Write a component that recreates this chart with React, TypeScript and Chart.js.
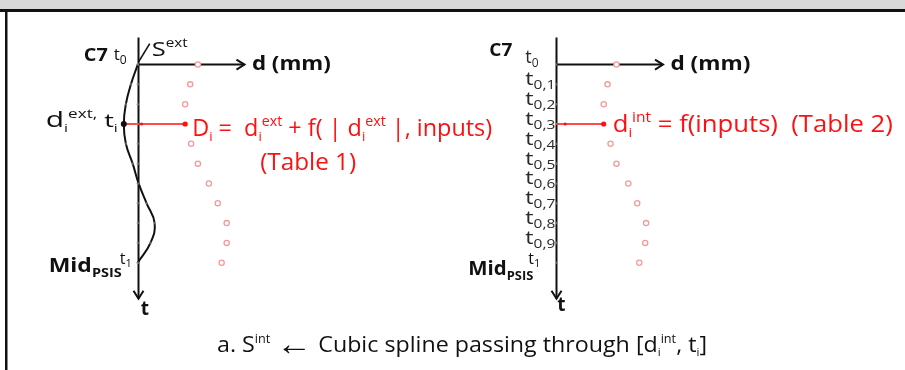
import React, { useEffect, useRef } from "react";
import { Chart, registerables } from "chart.js";

Chart.register(...registerables);

// t positions along the spine (C7 = 0, Mid PSIS = 1)
const T_VALUES = [0, 0.1, 0.2, 0.3, 0.4, 0.5, 0.6, 0.7, 0.8, 0.9, 1];
// external spline S^ext, horizontal offset d (mm)
const S_EXT_D = [0, -2.3, -4, -4.7, -4, -1.7, 0.3, 3, 5.7, 4.3, 0];
// D_i = d_i^ext + f(|d_i^ext|, inputs)  (left panel)
const D_EXT_PRED = [20.3, 17.7, 16, 16, 18, 20.3, 24, 27, 30, 30, 28.3];
// d_i^int = f(inputs)  (right panel)
const D_INT = [20.3, 17.3, 16, 16, 18.3, 20.3, 24.3, 27.3, 30.3, 30, 28];
// tick labels of the right panel
const TICK_SUBS = ["0", "0,1", "0,2", "0,3", "0,4", "0,5", "0,6", "0,7", "0,8", "0,9", "1"];
const SELECTED = 3;

const FONT = "'Open Sans', sans-serif";
const RED = "#ff1010";
const PINK = "#f59a9a";

type Run = { t: string; sz: number; dy?: number; bold?: boolean; color?: string };

function drawRich(
  ctx: CanvasRenderingContext2D,
  x: number,
  y: number,
  runs: Run[],
  color: string,
  align: "left" | "right" = "left",
  fitWidth?: number
) {
  let total = 0;
  for (const r of runs) {
    ctx.font = `${r.bold ? "bold " : ""}${r.sz}px ${FONT}`;
    total += ctx.measureText(r.t).width;
  }
  const sx = fitWidth ? fitWidth / total : 1;
  const w = total * sx;
  const startX = align === "right" ? x - w : x;
  ctx.save();
  ctx.translate(startX, y);
  ctx.scale(sx, 1);
  ctx.textBaseline = "alphabetic";
  ctx.textAlign = "left";
  let cx = 0;
  for (const r of runs) {
    ctx.font = `${r.bold ? "bold " : ""}${r.sz}px ${FONT}`;
    ctx.fillStyle = r.color || color;
    ctx.fillText(r.t, cx, r.dy || 0);
    cx += ctx.measureText(r.t).width;
  }
  ctx.restore();
}

function arrowHead(ctx: CanvasRenderingContext2D, x: number, y: number, dir: "right" | "down") {
  ctx.beginPath();
  if (dir === "right") {
    ctx.moveTo(x - 8, y - 5);
    ctx.lineTo(x, y);
    ctx.lineTo(x - 8, y + 5);
  } else {
    ctx.moveTo(x - 5, y - 8);
    ctx.lineTo(x, y);
    ctx.lineTo(x + 5, y - 8);
  }
  ctx.stroke();
}

const diagramPlugin = {
  id: "diagram",
  beforeDatasetsDraw(chart: any) {
    const ctx: CanvasRenderingContext2D = chart.ctx;
    const y = chart.scales.y;
    const xL = chart.scales.xL;
    const xR = chart.scales.xR;
    const W = chart.width;
    const H = chart.height;
    ctx.save();
    // frame
    ctx.fillStyle = "#d9d9d9";
    ctx.fillRect(0, 0, W, 9);
    ctx.fillStyle = "#111";
    ctx.fillRect(0, 9, W, 3);
    ctx.fillRect(5, 9, 2.5, H - 9);

    const t0 = y.getPixelForValue(0);
    const t1 = y.getPixelForValue(1);
    ctx.strokeStyle = "#111";
    ctx.lineWidth = 2;
    for (const sc of [xL, xR]) {
      const ax = Math.round(sc.getPixelForValue(0)) + 0.5;
      ctx.beginPath();
      ctx.moveTo(ax, t0 - 27);
      ctx.lineTo(ax, t1 + 36);
      ctx.stroke();
      arrowHead(ctx, ax, t1 + 36, "down");
      const ex = sc.getPixelForValue(36);
      ctx.beginPath();
      ctx.moveTo(ax, t0);
      ctx.lineTo(ex, t0);
      ctx.stroke();
      arrowHead(ctx, ex, t0, "right");
    }
    // S^ext pointer
    const lx = xL.getPixelForValue(0);
    ctx.lineWidth = 1.6;
    ctx.beginPath();
    ctx.moveTo(lx + 1, t0 - 3);
    ctx.lineTo(lx + 12, t0 - 21);
    ctx.stroke();
    ctx.restore();
  },
  afterDatasetsDraw(chart: any) {
    const ctx: CanvasRenderingContext2D = chart.ctx;
    const y = chart.scales.y;
    const xL = chart.scales.xL;
    const xR = chart.scales.xR;
    const t0 = y.getPixelForValue(0);
    const t1 = y.getPixelForValue(1);
    const ts = y.getPixelForValue(T_VALUES[SELECTED]);
    const lx = xL.getPixelForValue(0);
    const rx = xR.getPixelForValue(0);
    const K = "#111";
    ctx.save();
    // ---- left panel
    drawRich(ctx, lx - 54, t0 - 4, [{ t: "C7", sz: 18, bold: true }], K, "left", 24);
    drawRich(ctx, lx - 24, t0 - 5, [{ t: "t", sz: 17 }, { t: "0", sz: 12, dy: 4 }], K);
    drawRich(ctx, lx + 14, t0 - 9, [{ t: "S", sz: 20 }, { t: "ext", sz: 12, dy: -9 }], K, "left", 36);
    drawRich(ctx, xL.getPixelForValue(38.5), t0 + 5, [{ t: "d (mm)", sz: 19, bold: true }], K, "left", 79);
    const cxp = xL.getPixelForValue(S_EXT_D[SELECTED]);
    drawRich(ctx, cxp - 6, ts + 3, [
      { t: "d", sz: 21 }, { t: "i", sz: 11, dy: 5 }, { t: "ext,", sz: 12, dy: -9 }, { t: " t", sz: 19 }, { t: "i", sz: 11, dy: 5 },
    ], K, "right", 72);
    drawRich(ctx, lx - 89, t1 + 9, [{ t: "Mid", sz: 19, bold: true }, { t: "PSIS", sz: 12, bold: true, dy: 5 }], K, "left", 73);
    drawRich(ctx, lx - 18, t1 + 1, [{ t: "t", sz: 16 }, { t: "1", sz: 11, dy: 3 }], K);
    drawRich(ctx, lx + 3, t1 + 52, [{ t: "t", sz: 19, bold: true }], K);
    const dx = xL.getPixelForValue(D_EXT_PRED[SELECTED]);
    drawRich(ctx, dx + 7, ts + 12, [
      { t: "D", sz: 23 }, { t: "i", sz: 13, dy: 5 }, { t: " =  d", sz: 23 }, { t: "i", sz: 13, dy: 5 }, { t: "ext", sz: 14, dy: -10 },
      { t: " + f( | d", sz: 23 }, { t: "i", sz: 13, dy: 5 }, { t: "ext", sz: 14, dy: -10 }, { t: " |, inputs)", sz: 23 },
    ], RED, "left", 300);
    drawRich(ctx, dx + 75, ts + 46, [{ t: "(Table 1)", sz: 23 }], RED, "left", 96);

    // ---- right panel
    drawRich(ctx, rx - 67, t0 - 9, [{ t: "C7", sz: 18, bold: true }], K, "left", 23);
    for (let i = 0; i < T_VALUES.length - 1; i++) {
      const py = y.getPixelForValue(T_VALUES[i]);
      const isFirst = i === 0;
      drawRich(ctx, isFirst ? rx - 31 : rx - 1, isFirst ? py - 2 : py + 1, [
        { t: "t", sz: 18, color: "#2a2a2a" }, { t: TICK_SUBS[i], sz: 12, dy: 4, color: "#2a2a2a" },
      ], K, isFirst ? "left" : "right", isFirst ? undefined : 30);
    }
    drawRich(ctx, rx - 28, t1 + 1, [{ t: "t", sz: 16 }, { t: TICK_SUBS[10], sz: 11, dy: 3 }], K);
    drawRich(ctx, rx - 88, t1 + 12, [{ t: "Mid", sz: 19, bold: true }, { t: "PSIS", sz: 12, bold: true, dy: 5 }], K, "left", 65);
    drawRich(ctx, rx + 1, t1 + 48, [{ t: "t", sz: 19, bold: true }], K);
    drawRich(ctx, xR.getPixelForValue(38.5), t0 + 5, [{ t: "d (mm)", sz: 19, bold: true }], K, "left", 80);
    const ix = xR.getPixelForValue(D_INT[SELECTED]);
    drawRich(ctx, ix + 9, ts + 8, [
      { t: "d", sz: 23 }, { t: "i", sz: 13, dy: 5 }, { t: "int", sz: 14, dy: -10 }, { t: " = f(inputs)  (Table 2)", sz: 23 },
    ], RED, "left", 280);

    // ---- caption
    drawRich(ctx, 217, 352, [
      { t: "a. S", sz: 22 }, { t: "int", sz: 12, dy: -9 }, { t: " ", sz: 22 }, { t: "\u2190", sz: 34, dy: 3 },
      { t: " Cubic spline passing through [d", sz: 22 },
      { t: "i", sz: 11, dy: 4 }, { t: "int", sz: 12, dy: -9 }, { t: ", t", sz: 22 }, { t: "i", sz: 11, dy: 4 }, { t: "]", sz: 22 },
    ], K, "left", 490);
    ctx.restore();
  },
};

export default function App() {
  const ref = useRef<HTMLCanvasElement | null>(null);
  useEffect(() => {
    if (!ref.current) return;
    const pts = (ds: number[]) => T_VALUES.map((t, i) => ({ x: ds[i], y: t }));
    const zeros = T_VALUES.map(() => 0);
    const sel = T_VALUES[SELECTED];
    const chart = new Chart(ref.current, {
      type: "scatter",
      data: {
        datasets: [
          {
            label: "S ext",
            data: pts(S_EXT_D),
            xAxisID: "xL",
            showLine: true,
            borderColor: "#111",
            borderWidth: 2,
            tension: 0.45,
            pointRadius: T_VALUES.map((_, i) => (i === SELECTED ? 3 : 1.3)),
            pointBackgroundColor: T_VALUES.map((_, i) => (i === SELECTED ? "#111" : "rgba(150,150,150,0.6)")),
            pointBorderWidth: 0,
          } as any,
          {
            label: "axis L",
            data: pts(zeros),
            xAxisID: "xL",
            pointRadius: 1.3,
            pointBackgroundColor: "rgba(150,150,150,0.6)",
            pointBorderWidth: 0,
          },
          {
            label: "axis R",
            data: pts(zeros),
            xAxisID: "xR",
            pointRadius: 1.3,
            pointBackgroundColor: "rgba(150,150,150,0.6)",
            pointBorderWidth: 0,
          },
          {
            label: "link L",
            data: [
              { x: S_EXT_D[SELECTED], y: sel },
              { x: S_EXT_D[SELECTED] + 6, y: sel },
              { x: D_EXT_PRED[SELECTED], y: sel },
            ],
            xAxisID: "xL",
            showLine: true,
            borderColor: RED,
            borderWidth: 1.3,
            pointRadius: [0, 1.5, 2.6],
            pointBackgroundColor: RED,
            pointBorderWidth: 0,
          },
          {
            label: "link R",
            data: [
              { x: 0, y: sel },
              { x: 3, y: sel },
              { x: D_INT[SELECTED], y: sel },
            ],
            xAxisID: "xR",
            showLine: true,
            borderColor: RED,
            borderWidth: 1.3,
            pointRadius: [0, 1.5, 2.6],
            pointBackgroundColor: RED,
            pointBorderWidth: 0,
          },
          {
            label: "D ext",
            data: pts(D_EXT_PRED).filter((_, i) => i !== SELECTED),
            xAxisID: "xL",
            pointRadius: 2.6,
            pointBorderColor: PINK,
            pointBackgroundColor: "#fff",
            pointBorderWidth: 1.3,
          },
          {
            label: "d int",
            data: pts(D_INT).filter((_, i) => i !== SELECTED),
            xAxisID: "xR",
            pointRadius: 2.6,
            pointBorderColor: PINK,
            pointBackgroundColor: "#fff",
            pointBorderWidth: 1.3,
          },
        ],
      },
      options: {
        animation: false,
        responsive: false,
        events: [],
        layout: { padding: 0 },
        plugins: { legend: { display: false }, tooltip: { enabled: false } },
        scales: {
          xL: { type: "linear", display: false, min: -134 / 3, max: (905 - 134) / 3 },
          xR: { type: "linear", display: false, min: -557.5 / 3, max: (905 - 557.5) / 3 },
          y: { type: "linear", display: false, reverse: true, min: -61 / 204, max: (370 - 61) / 204 },
        },
      },
      plugins: [diagramPlugin],
    });
    return () => chart.destroy();
  }, []);
  return (
    <div style={{ position: "fixed", left: 0, top: 0, width: 905, height: 370, background: "#fff" }}>
      <canvas ref={ref} width={905} height={370} style={{ display: "block" }} />
    </div>
  );
}
